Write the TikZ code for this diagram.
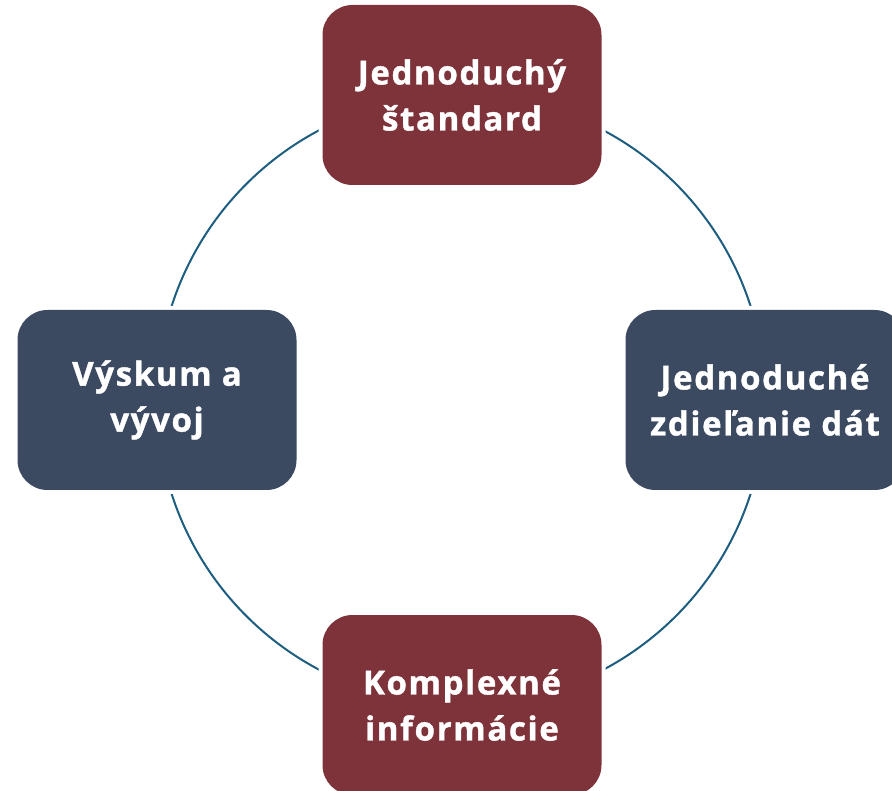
\documentclass[tikz,border=0pt]{standalone}
\usepackage{fontspec}
\setmainfont{Open Sans}[LetterSpace=5,BoldFeatures={FakeBold=1.2}]
\usetikzlibrary{backgrounds}
\definecolor{boxred}{HTML}{7E333B}
\definecolor{boxblue}{HTML}{3B4961}
\definecolor{ringblue}{HTML}{1D5E80}
\tikzset{
  stage/.style={rounded corners=30pt, minimum width=279pt, minimum height=180pt,
    text=white, align=center, inner sep=0pt,
    font=\fontsize{33}{46}\selectfont\bfseries,
    preaction={draw=white, line width=8pt}},
  redstage/.style={stage, fill=boxred},
  bluestage/.style={stage, fill=boxblue},
  ring/.style={draw=ringblue, line width=2pt}
}
\begin{document}
\begin{tikzpicture}[x=1pt,y=-1pt]
\useasboundingbox (0,0) rectangle (892,791);
\clip (0,0) rectangle (892,791);
\node[redstage] (top) at (462,95) {Jednoduchý\\štandard};
\node[bluestage] (right) at (765,400) {Jednoduché\\zdieľanie dát};
\node[redstage] (bottom) at (462,705) {Komplexné\\informácie};
\node[bluestage] (left) at (157,400) {Výskum a\\vývoj};
\begin{scope}[on background layer]
\draw[ring] (top.center) to[bend left=45] (right.center);
\draw[ring] (right.center) to[bend left=45] (bottom.center);
\draw[ring] (bottom.center) to[bend left=45] (left.center);
\draw[ring] (left.center) to[bend left=45] (top.center);
\end{scope}
\end{tikzpicture}
\end{document}
